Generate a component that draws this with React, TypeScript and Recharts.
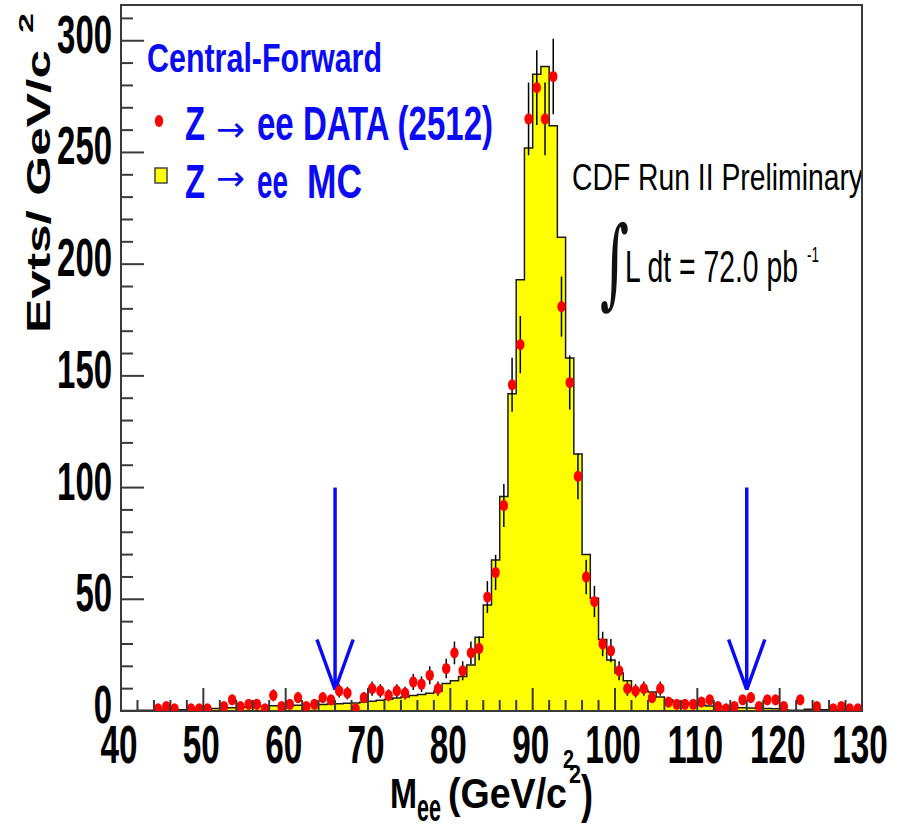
import React from 'react';
import {
  ComposedChart,
  Area,
  Scatter,
  ErrorBar,
  XAxis,
  YAxis,
  ReferenceLine,
  ReferenceArea,
  Customized,
} from 'recharts';

// 1 GeV bins, lower edges
const binLow = [
  40, 41, 42, 43, 44, 45, 46, 47, 48, 49, 50, 51, 52, 53, 54, 55, 56, 57, 58, 59,
  60, 61, 62, 63, 64, 65, 66, 67, 68, 69, 70, 71, 72, 73, 74, 75, 76, 77, 78, 79,
  80, 81, 82, 83, 84, 85, 86, 87, 88, 89, 90, 91, 92, 93, 94, 95, 96, 97, 98, 99,
  100, 101, 102, 103, 104, 105, 106, 107, 108, 109, 110, 111, 112, 113, 114, 115, 116, 117, 118, 119,
  120, 121, 122, 123, 124, 125, 126, 127, 128, 129,
];
const BIN_WIDTH = 1;

// Z -> ee MC, normalised to data
const mcCounts = [
  0.2, 0.2, 0.3, 0.3, 0.4, 0.4, 0.5, 0.6, 0.7, 0.8, 0.9, 1.1, 1.3, 1.5, 1.7, 1.8, 2.0, 2.1, 2.3, 2.4,
  2.5, 2.6, 2.7, 2.8, 2.9, 3.1, 3.3, 3.5, 3.6, 4.0, 4.4, 4.8, 5.3, 5.8, 6.3, 6.9, 7.4, 8.0, 8.8, 12.3,
  13.5, 15.4, 20.6, 33, 47.5, 67.6, 96, 142, 193, 252, 285, 288.5, 262, 212, 158, 115, 70, 50.5, 32, 22.8,
  17, 13.5, 9.5, 9.4, 8.5, 6.3, 5.0, 4.2, 3.6, 3.0, 2.6, 2.2, 1.9, 1.7, 1.5, 1.4, 1.3, 1.2, 1.1, 1.0,
  0.6, 0.3, 0.3, 0.8, 0.8, 0.6, 0.6, 0.6, 0.6, 0.6,
];

// Z -> ee data, events per bin (null = empty bin)
const dataCounts = [
  null, null, null, null, 1, 2, 1, null, 1, 1, 1, null, 2, 5, 2, 3, 3, 1, 7, 2,
  3, 6, 2, 3, 6, 5, 9, 8, 1, 6, 10, 9, 7, 9, 8, 13, 12, 16, 10, 19,
  26, 18, 26, 28, 51, 62, 92, 146, 164, 265, 279, 265, 284, 181, 147, 105, 60, 49, 30, 27,
  18, 10, 9, 10, 6, 10, 4, 3, 3, 3, 4, 5, 2, 1, 2, 5, 6, 2, 5, 5,
  2, null, 5, null, 2, null, 1, 2, 1, 1,
];

const xTicks = [40, 42, 44, 46, 48, 50, 52, 54, 56, 58, 60, 62, 64, 66, 68, 70, 72, 74, 76, 78, 80, 82, 84, 86, 88, 90, 92, 94, 96, 98, 100, 102, 104, 106, 108, 110, 112, 114, 116, 118, 120, 122, 124, 126, 128, 130];
const xLabels = [40, 50, 60, 70, 80, 90, 100, 110, 120, 130];
const yTicks = [0, 10, 20, 30, 40, 50, 60, 70, 80, 90, 100, 110, 120, 130, 140, 150, 160, 170, 180, 190, 200, 210, 220, 230, 240, 250, 260, 270, 280, 290, 300, 310];
const yLabels = [0, 50, 100, 150, 200, 250, 300];

// mass window cut markers
const cutMasses = [66, 116];
const ARROW_TOP = 100;
const ARROW_TIP = 9.5;
const ARROW_HEAD_HALF = 2.2;
const ARROW_HEAD_TOP = 32;

const X_DOMAIN = [40, 130];
const Y_DOMAIN = [0, 316];

const FONT = '"Liberation Sans", Arial, Helvetica, sans-serif';
const SYMBOL_FONT = '"DejaVu Sans", sans-serif';
const BLUE = '#0a0af5';
const AXIS = '#3a3a3a';

// step outline needs a closing edge at the upper end of the last bin
const mcRows = [
  ...binLow.map((lo, i) => ({ x: lo, mc: mcCounts[i] })),
  { x: binLow[binLow.length - 1] + BIN_WIDTH, mc: mcCounts[mcCounts.length - 1] },
];

const dataPoints = binLow
  .map((lo, i) => ({ x: lo + BIN_WIDTH / 2, n: dataCounts[i] }))
  .filter((p) => p.n !== null)
  .map((p) => ({ ...p, err: Math.sqrt(p.n as number) }));

function XTick({ x = 0, y = 0, payload }: any) {
  const v = payload?.value;
  const major = xLabels.includes(v);
  return (
    <g>
      <line x1={x} x2={x} y1={y} y2={y - (major ? 23 : 11)} stroke={AXIS} strokeWidth={2} />
      {major && (
        <text
          x={x - 2}
          y={y + 52}
          textAnchor="middle"
          fontFamily={FONT}
          fontWeight="bold"
          fontSize={53}
          textLength={String(v).length * 18.5}
          lengthAdjust="spacingAndGlyphs"
          fill="#000"
        >
          {v}
        </text>
      )}
    </g>
  );
}

function YTick({ x = 0, y = 0, payload }: any) {
  const v = payload?.value;
  const major = yLabels.includes(v);
  return (
    <g>
      <line x1={x} x2={x + (major ? 23 : 12)} y1={y} y2={y} stroke={AXIS} strokeWidth={2} />
      {major && (
        <text
          x={x - 9}
          y={y + 12}
          textAnchor="end"
          fontFamily={FONT}
          fontWeight="bold"
          fontSize={53}
          textLength={String(v).length * 18.3}
          lengthAdjust="spacingAndGlyphs"
          fill="#000"
        >
          {v}
        </text>
      )}
    </g>
  );
}

function DataDot({ cx, cy }: any) {
  if (cx == null || cy == null) return null;
  return <ellipse cx={cx} cy={cy} rx={4.2} ry={5.6} fill="#ff0000" />;
}

function Squeezed({ x, y, w, size, bold = true, fill = '#000', family = FONT, children }: any) {
  return (
    <text
      x={x}
      y={y}
      fontSize={size}
      fontWeight={bold ? 'bold' : 'normal'}
      fontFamily={family}
      fill={fill}
      textLength={w}
      lengthAdjust="spacingAndGlyphs"
    >
      {children}
    </text>
  );
}

function Labels() {
  return (
    <g>
      {/* legend */}
      <Squeezed x={147} y={72} w={235} size={40} fill={BLUE}>Central-Forward</Squeezed>

      <ellipse cx={159} cy={121} rx={4.2} ry={6} fill="#ff0000" />
      <Squeezed x={185} y={140} w={20} size={49} fill={BLUE}>Z</Squeezed>
      <Squeezed x={216} y={141} w={29} size={34} bold={false} fill={BLUE} family={SYMBOL_FONT}>→</Squeezed>
      <Squeezed x={257} y={140} w={236} size={49} fill={BLUE}>ee DATA (2512)</Squeezed>

      <rect x={155} y={168} width={12} height={15} fill="#ffff00" stroke="#444" strokeWidth={1.5} />
      <Squeezed x={185} y={198} w={20} size={49} fill={BLUE}>Z</Squeezed>
      <Squeezed x={216} y={190} w={29} size={34} bold={false} fill={BLUE} family={SYMBOL_FONT}>→</Squeezed>
      <Squeezed x={257} y={198} w={31} size={49} fill={BLUE}>ee</Squeezed>
      <Squeezed x={307} y={198} w={55} size={49} fill={BLUE}>MC</Squeezed>

      {/* experiment label */}
      <Squeezed x={572} y={190} w={291} size={37} bold={false}>CDF Run II Preliminary</Squeezed>
      <text transform="translate(600 296) scale(1 1.75)" fontSize={56} fontFamily='"DejaVu Serif", serif' fill="#111">
        ∫
      </text>
      <Squeezed x={625} y={282} w={173} size={44} bold={false}>L dt = 72.0 pb</Squeezed>
      <Squeezed x={807} y={262} w={12} size={22} bold={false}>-1</Squeezed>

      {/* axis titles */}
      <text
        transform="translate(50 333) rotate(-90)"
        fontFamily={FONT}
        fontSize={33}
        fontWeight="bold"
        fill="#000"
        textLength={283}
        lengthAdjust="spacingAndGlyphs"
      >
        Evts/ GeV/c
      </text>
      <text
        transform="translate(33 33) rotate(-90)"
        fontFamily={FONT}
        fontSize={21}
        fontWeight="bold"
        fill="#000"
        textLength={20}
        lengthAdjust="spacingAndGlyphs"
      >
        2
      </text>

      <Squeezed x={390} y={808} w={27} size={42}>M</Squeezed>
      <Squeezed x={417} y={821} w={24} size={38}>ee</Squeezed>
      <Squeezed x={448} y={808} w={119} size={42}>(GeV/c</Squeezed>
      <Squeezed x={569} y={783} w={12} size={25}>2</Squeezed>
      <Squeezed x={563} y={768} w={11} size={25}>2</Squeezed>
      <Squeezed x={581} y={812} w={12} size={52}>)</Squeezed>
    </g>
  );
}

export default function App() {
  return (
    <div style={{ position: 'absolute', left: 0, top: 0, width: 906, height: 827, background: '#fff' }}>
      <ComposedChart
        width={906}
        height={827}
        data={mcRows}
        margin={{ top: 5, right: 44, bottom: 0, left: 0 }}
      >
        <XAxis
          type="number"
          dataKey="x"
          domain={X_DOMAIN}
          ticks={xTicks}
          interval={0}
          allowDataOverflow
          height={116}
          tickSize={0}
          tickMargin={0}
          tickLine={false}
          tick={<XTick />}
          axisLine={{ stroke: AXIS, strokeWidth: 2 }}
        />
        <YAxis
          type="number"
          domain={Y_DOMAIN}
          ticks={yTicks}
          interval={0}
          allowDataOverflow
          width={121}
          tickSize={0}
          tickMargin={0}
          tickLine={false}
          tick={<YTick />}
          axisLine={{ stroke: AXIS, strokeWidth: 2 }}
        />
        <ReferenceArea
          x1={X_DOMAIN[0]}
          x2={X_DOMAIN[1]}
          y1={Y_DOMAIN[0]}
          y2={Y_DOMAIN[1]}
          fill="none"
          fillOpacity={0}
          stroke={AXIS}
          strokeWidth={2}
          ifOverflow="visible"
        />
        <Area
          type="stepAfter"
          dataKey="mc"
          baseValue={0}
          stroke="#1a1a1a"
          strokeWidth={1.5}
          fill="#ffff00"
          fillOpacity={1}
          dot={false}
          activeDot={false}
          isAnimationActive={false}
        />
        <Scatter data={dataPoints} dataKey="n" shape={<DataDot />} isAnimationActive={false}>
          <ErrorBar dataKey="err" direction="y" width={0} stroke="#000" strokeWidth={1.5} isAnimationActive={false} />
        </Scatter>
        {cutMasses.map((m) => (
          <ReferenceLine
            key={`shaft-${m}`}
            segment={[{ x: m, y: ARROW_TOP }, { x: m, y: ARROW_TIP }]}
            stroke={BLUE}
            strokeWidth={3.5}
            ifOverflow="visible"
          />
        ))}
        {cutMasses.map((m) => (
          <ReferenceLine
            key={`left-${m}`}
            segment={[{ x: m - ARROW_HEAD_HALF, y: ARROW_HEAD_TOP }, { x: m, y: ARROW_TIP }]}
            stroke={BLUE}
            strokeWidth={3.5}
            ifOverflow="visible"
          />
        ))}
        {cutMasses.map((m) => (
          <ReferenceLine
            key={`right-${m}`}
            segment={[{ x: m + ARROW_HEAD_HALF, y: ARROW_HEAD_TOP }, { x: m, y: ARROW_TIP }]}
            stroke={BLUE}
            strokeWidth={3.5}
            ifOverflow="visible"
          />
        ))}
        <Customized component={<Labels />} />
      </ComposedChart>
    </div>
  );
}
